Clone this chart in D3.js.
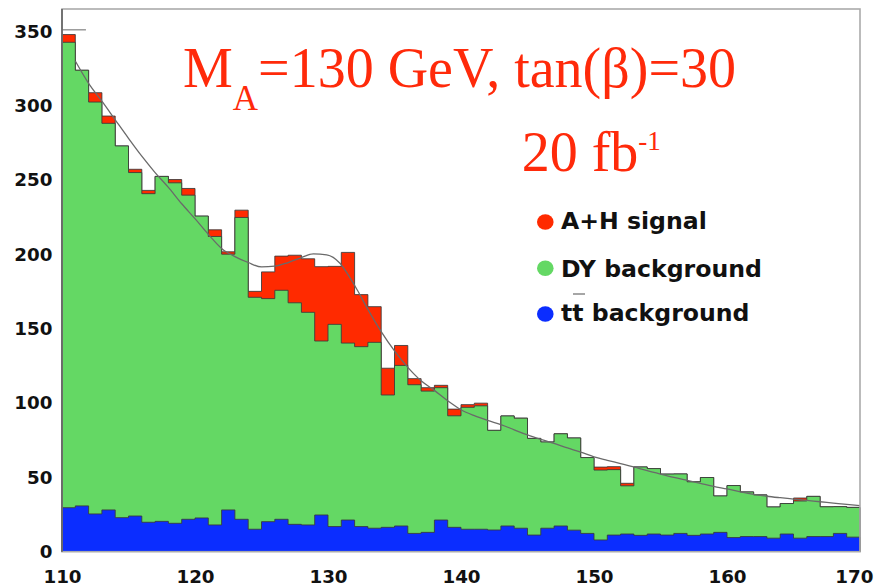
<!DOCTYPE html>
<html>
<head>
<meta charset="utf-8">
<script src="https://cdn.jsdelivr.net/npm/d3@7"></script>
<style>
  body { margin: 0; background: #fff; }
  svg { display: block; }
</style>
</head>
<body>
<svg id="chart" width="877" height="587"></svg>
<script>
// Dimuon invariant mass spectrum, 1 GeV bins from 110 to 170 GeV
const binLow = [110,111,112,113,114,115,116,117,118,119,
                120,121,122,123,124,125,126,127,128,129,
                130,131,132,133,134,135,136,137,138,139,
                140,141,142,143,144,145,146,147,148,149,
                150,151,152,153,154,155,156,157,158,159,
                160,161,162,163,164,165,166,167,168,169];
const binHigh = 170;

// tt background (bottom of the stack)
const ttBackground = [29.6,30.8,25.4,28.1,22.9,24.0,19.8,20.4,19.1,21.8,
                      22.7,18.0,28.1,21.8,15.1,20.2,21.8,18.4,18.0,24.7,
                      16.9,21.3,16.9,15.8,16.4,17.3,12.3,13.0,21.3,16.4,
                      15.1,15.1,14.6,17.3,15.8,11.2,15.8,17.3,14.5,12.3,
                      7.9,11.2,11.9,11.0,11.9,11.2,12.3,11.0,11.9,13.0,
                      9.5,10.2,10.2,9.1,11.9,9.1,10.2,10.2,12.3,9.8];

// Drell-Yan background
const dyBackground = [313,293,277,260,250,231,221,232,229,218,
                      203,194,172,203,156,150,154,149,143,117,
                      136,119,121,125,89,108,100,95,89,75,
                      82,83,67,74,74,65,58,62,62,51,
                      47,44,32.4,46,44,41,40,36,38,24.5,
                      35,30,28,21,20.5,25,27,20,18,20];

// A+H signal
const ahSignal = [5.2,0,6.3,4.9,0,2.2,2.2,0,2.2,4.5,
                  0,4.5,1.6,4.9,4,18,23,32,36,50,
                  39,61,35,24,18,13.4,4.1,2.3,1.6,4.5,
                  1.8,1.8,0,0,0,0,0,0,0,0,
                  2,2,1.7,0,0,0,0,0,0,0,
                  0,0,0,0,0,2,0,0,0,0];

// Fitted background + signal shape
const fitCurve = [[111,330],[112,315],[113,303],[114,290.5],[115,278],[116,266],
                  [117,255],[118,245],[119,234],[120,224],[121,213.5],[122,204],
                  [123,198.5],[124,194.5],[125,191.5],[126,192],[127,194.5],[128,197.8],
                  [128.9,200.3],[129.9,199.7],[130.9,194],[131.6,185],[132.2,176],
                  [133,163],[134,148],[135,135],[136,124],[137,115],[138,108.5],
                  [139,101.5],[140,95.5],[141,91.5],[142,88.3],[143,85.5],[144,82],
                  [145,78.5],[146,75.5],[147,72.8],[148,69.8],[149,67],[150,63.8],
                  [151,61.5],[152,59.3],[153,57],[154,54.5],[155,52.2],[156,50],
                  [157,48],[158,46],[159,44],[160,42.2],[161,40.3],[162,38.6],
                  [163,37.3],[164,36.3],[165,35.4],[166,34.5],[167,33.6],[168,32.7],
                  [169,31.8],[170,31]];
const fitClip = [[110,351],[111.8,351]];

const xTicks = [110,120,130,140,150,160,170];
const yTicks = [0,50,100,150,200,250,300,350];

const seriesKeys = ["tt","dy","sig"];
const seriesColors = {sig: "#ff2a00", dy: "#64d864", tt: "#0b2dff"};
const legendLabels = ["A+H signal", "DY background", "tt background"];
const legendKeys = ["sig", "dy", "tt"];

const table = binLow.map((x, i) => ({
  x: x, tt: ttBackground[i], dy: dyBackground[i], sig: ahSignal[i]
}));

const svg = d3.select("#chart");
const plotLeft = 62, plotRight = 860, plotTop = 9, plotBottom = 551.7;

const x = d3.scaleLinear().domain([110, 170]).range([plotLeft, plotRight]);
const y = d3.scaleLinear().domain([0, 365]).range([plotBottom, plotTop]);

const stack = d3.stack().keys(seriesKeys);
const layers = stack(table);

const area = d3.area()
  .curve(d3.curveStepAfter)
  .x(d => x(d[0]))
  .y0(y(0))
  .y1(d => y(d[1]));
const outline = d3.line()
  .curve(d3.curveStepAfter)
  .x(d => x(d[0]))
  .y(d => y(d[1]));

// cumulative histograms drawn from the top of the stack downward
const drawOrder = ["sig", "dy", "tt"];
drawOrder.forEach(key => {
  const layer = layers.find(l => l.key === key);
  const pts = layer.map((d, i) => [binLow[i], d[1]]);
  pts.push([binHigh, layer[layer.length - 1][1]]);
  const ptsClosed = [[binLow[0], 0]].concat(pts).concat([[binHigh, 0]]);
  svg.append("path")
    .attr("d", area(pts))
    .attr("fill", seriesColors[key]);
  svg.append("path")
    .attr("d", outline(ptsClosed))
    .attr("fill", "none")
    .attr("stroke", "#3a3a3a")
    .attr("stroke-opacity", 0.85)
    .attr("stroke-width", 1);
});

// fit function
const fitLine = d3.line()
  .curve(d3.curveMonotoneX)
  .x(d => x(d[0]))
  .y(d => y(d[1]));
svg.append("path")
  .attr("d", fitLine(fitCurve))
  .attr("fill", "none")
  .attr("stroke", "#6a6a6a")
  .attr("stroke-width", 1.3);
svg.append("path")
  .attr("d", fitLine(fitClip))
  .attr("fill", "none")
  .attr("stroke", "#8a8a8a")
  .attr("stroke-width", 1.3);

// frame
svg.append("rect")
  .attr("x", plotLeft).attr("y", plotTop)
  .attr("width", plotRight - plotLeft).attr("height", plotBottom - plotTop)
  .attr("fill", "none")
  .attr("stroke", "#ababab")
  .attr("stroke-width", 1.6);
svg.append("line")
  .attr("x1", plotLeft).attr("x2", plotLeft)
  .attr("y1", plotTop).attr("y2", plotBottom)
  .attr("stroke", "#555")
  .attr("stroke-width", 1.4);

// axes
const tickFont = "'DejaVu Sans', sans-serif";
const yAxis = svg.append("g")
  .attr("transform", `translate(${plotLeft},0)`)
  .call(d3.axisLeft(y).tickValues(yTicks).tickSize(0).tickPadding(9.5));
const xAxis = svg.append("g")
  .attr("transform", `translate(0,${plotBottom})`)
  .call(d3.axisBottom(x).tickValues(xTicks).tickSize(0).tickPadding(18));
[xAxis, yAxis].forEach(g => {
  g.select(".domain").remove();
  g.selectAll("text")
    .attr("font-family", tickFont)
    .attr("font-weight", "bold")
    .attr("font-size", "18.3px")
    .attr("fill", "#111");
});
// keep the last x label inside the canvas
xAxis.selectAll(".tick")
  .filter(d => d === xTicks[xTicks.length - 1])
  .select("text")
  .attr("text-anchor", "end")
  .attr("dx", 13);

// title
const title = svg.append("text")
  .attr("x", 183).attr("y", 87)
  .attr("font-family", "'Liberation Serif', 'Times New Roman', serif")
  .attr("font-size", "56px")
  .attr("fill", "#ff2a0a");
title.append("tspan").text("M");
title.append("tspan").attr("font-size", "35px").attr("dy", 23).text("A");
title.append("tspan").attr("dy", -23).text("=130 GeV, tan(\u03B2)=30");

const lumi = svg.append("text")
  .attr("x", 521.7).attr("y", 170.7)
  .attr("font-family", "'Liberation Serif', 'Times New Roman', serif")
  .attr("font-size", "56px")
  .attr("fill", "#ff2a0a");
lumi.append("tspan").text("20 fb");
lumi.append("tspan").attr("font-size", "27px").attr("dy", -20.7).text("-1");

// legend
const legendY = [222, 268.3, 314];
const legendBase = [229.3, 276.5, 320.7];
legendKeys.forEach((key, i) => {
  svg.append("ellipse")
    .attr("cx", 545.3).attr("cy", legendY[i])
    .attr("rx", 8.3).attr("ry", 7.8)
    .attr("fill", seriesColors[key]);
  svg.append("text")
    .attr("x", 561).attr("y", legendBase[i])
    .attr("font-family", tickFont)
    .attr("font-weight", "bold")
    .attr("font-size", "23.6px")
    .attr("fill", "#111")
    .text(legendLabels[i]);
});
// bar over the second t of "tt"
svg.append("line")
  .attr("x1", 573).attr("x2", 585)
  .attr("y1", 294).attr("y2", 294)
  .attr("stroke", "#888")
  .attr("stroke-width", 1.5);
</script>
</body>
</html>
